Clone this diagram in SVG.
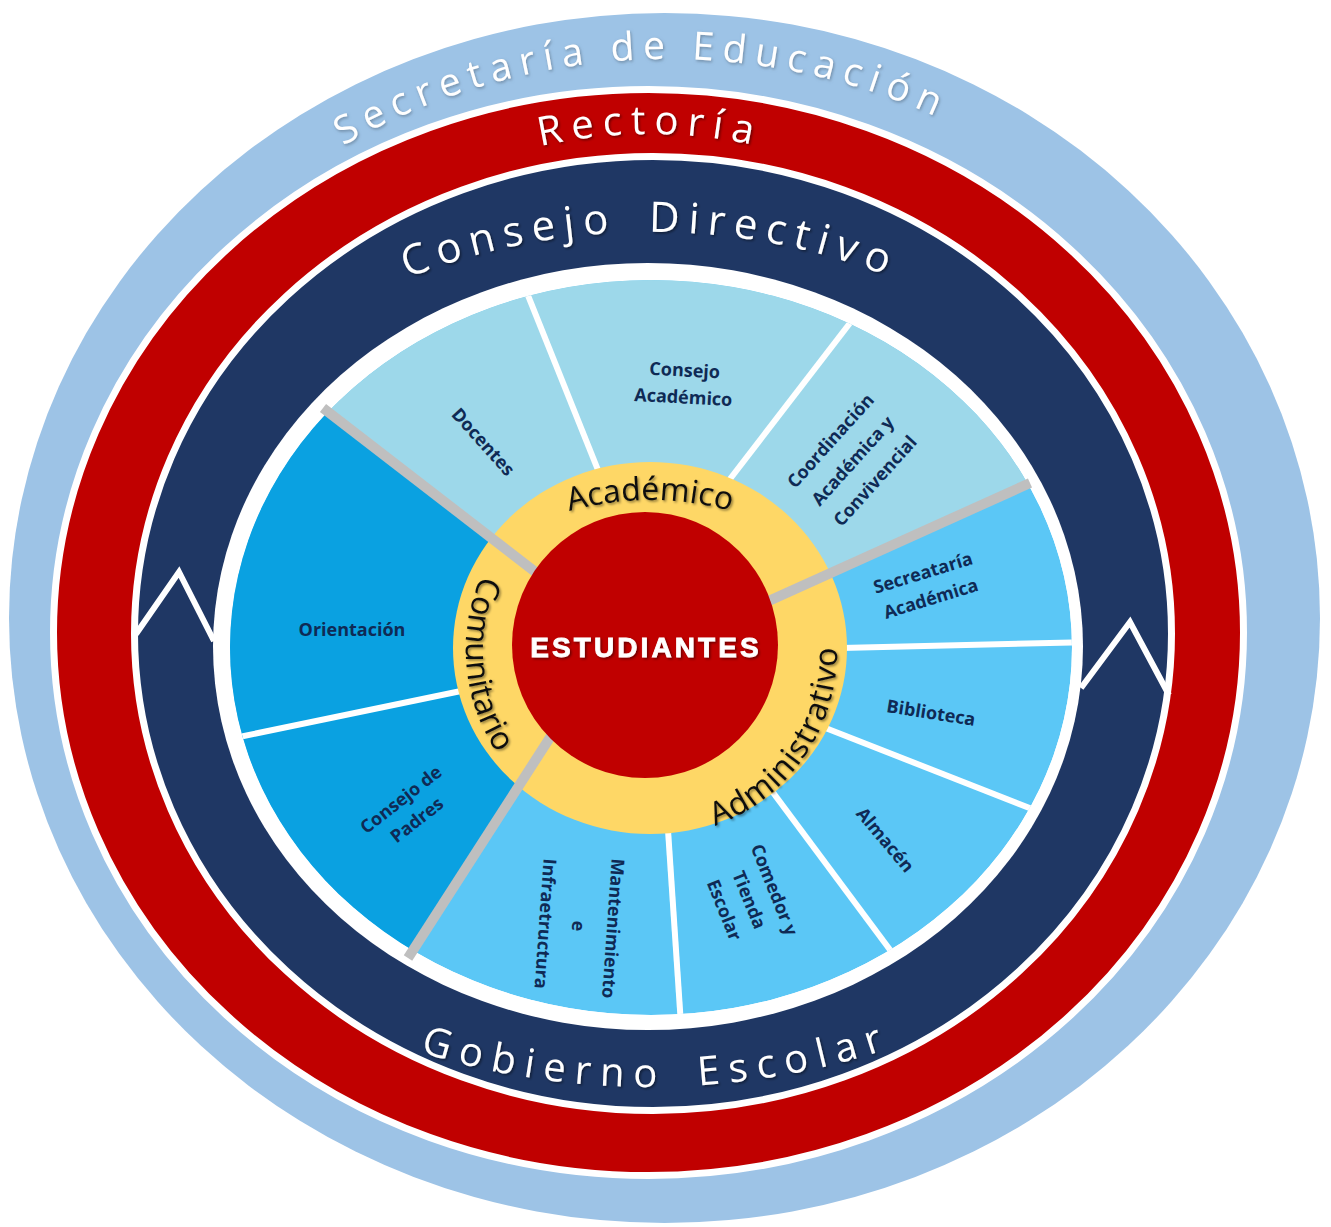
<svg xmlns="http://www.w3.org/2000/svg" width="1331" height="1227" viewBox="0 0 1331 1227">
<defs>
<style>
.ring{font-family:"Open Sans","Liberation Sans",sans-serif;fill:#ffffff}
.lbl{font-family:"Open Sans","Liberation Sans",sans-serif;font-weight:700;font-size:18px;fill:#0F2A55;text-anchor:middle}
.area{font-family:"Open Sans","Liberation Sans",sans-serif;font-size:32px;fill:#111111}
.sep{stroke:#ffffff;stroke-width:6;fill:none}
.gray{stroke:#BFBFBF;stroke-width:10;fill:none}
.chev{stroke:#ffffff;stroke-width:6;fill:none;stroke-linejoin:miter}
</style>
<filter id="sh" x="-20%" y="-20%" width="140%" height="160%">
<feDropShadow dx="1.5" dy="1.5" stdDeviation="1.2" flood-color="#000000" flood-opacity="0.45"/>
</filter>
<filter id="shl" x="-20%" y="-20%" width="140%" height="160%">
<feDropShadow dx="1" dy="1.5" stdDeviation="1.5" flood-color="#5a6f86" flood-opacity="0.7"/>
</filter>
<clipPath id="disc"><ellipse cx="651" cy="647.5" rx="421" ry="367.5"/></clipPath>
<path id="pSec" d="M 249.5 211.3 A 651 651 0 0 1 1041.4 176.7"/>
<path id="pRec" d="M 438.3 181 A 501 501 0 0 1 861.7 181"/>
<path id="pCon" d="M 300 336.2 A 520 400 0 0 1 1000 336.2"/>
<path id="pGob" d="M 266 984.4 A 766 766 0 0 0 1032 984.4"/>
<path id="pAca" d="M 477.9 554.3 A 300 300 0 0 1 822.1 554.3"/>
<path id="pCom" d="M 532.4 507.5 A 186 186 0 0 0 559 811.1"/>
<path id="pAdm" d="M 620 834 A 185 185 0 0 0 810 555.5"/>
</defs>

<rect width="1331" height="1227" fill="#ffffff"/>

<g id="secretaria">
<ellipse cx="664.5" cy="618" rx="655.5" ry="605" fill="#9DC3E6"/>
<text class="ring" font-size="39" letter-spacing="8.2" fill="#EEF3FA" filter="url(#shl)"><textPath href="#pSec" startOffset="50%" text-anchor="middle">Secretaría de Educación</textPath></text>
</g>

<g id="rectoria">
<ellipse cx="648.5" cy="632.5" rx="595" ry="543" fill="#C00000" stroke="#ffffff" stroke-width="7"/>
<text class="ring" font-size="40" letter-spacing="8.5" filter="url(#sh)"><textPath href="#pRec" startOffset="50%" text-anchor="middle">Rectoría</textPath></text>
</g>

<g id="gobierno">
<ellipse cx="653" cy="633.5" rx="518.5" ry="477" fill="#1F3764" stroke="#ffffff" stroke-width="7"/>
<polyline class="chev" points="136,634 179,572 214,641"/>
<polyline class="chev" points="1081,688 1130,622 1169,695"/>
<text class="ring" font-size="42" letter-spacing="8.4" word-spacing="12" filter="url(#sh)"><textPath href="#pCon" startOffset="50%" text-anchor="middle">Consejo Directivo</textPath></text>
<text class="ring" font-size="40" letter-spacing="9.4" word-spacing="12" filter="url(#sh)"><textPath href="#pGob" startOffset="51%" text-anchor="middle">Gobierno Escolar</textPath></text>
</g>

<ellipse cx="648" cy="646.5" rx="435" ry="383.5" fill="#ffffff"/>

<g id="sectores" clip-path="url(#disc)">
<ellipse id="sector-administrativo" cx="651" cy="647.5" rx="421" ry="367.5" fill="#5BC7F6"/>
<polygon id="sector-academico" points="650,648 533,570 113,246 113,-100 1400,-100 1400,316 1283,369 777,597" fill="#9DD8EA"/>
<polygon id="sector-comunitario" points="650,648 533,570 113,246 0,246 0,1300 271,1171 545,745" fill="#0AA1E1"/>
</g>

<g id="conectores">
<g clip-path="url(#disc)">
<line class="sep" x1="515" y1="263" x2="610" y2="500"/>
<line class="sep" x1="870" y1="297" x2="720" y2="492"/>
<line class="sep" x1="1090" y1="642" x2="800" y2="649"/>
<line class="sep" x1="1050" y1="816" x2="800" y2="718"/>
<line class="sep" x1="905" y1="970" x2="760" y2="775"/>
<line class="sep" x1="682" y1="1040" x2="666" y2="800"/>
<line class="sep" x1="215" y1="742" x2="490" y2="685"/>
</g>
</g>

<g id="anillo-areas">
<ellipse cx="650" cy="648" rx="197" ry="186" fill="#FED766"/>
</g>

<g id="divisores">
<line class="gray" x1="323" y1="408" x2="560" y2="591"/>
<line class="gray" x1="1030" y1="483" x2="760" y2="605"/>
<line class="gray" x1="408" y1="958" x2="560" y2="722"/>
</g>

<g id="estudiantes">
<circle cx="645" cy="645" r="133" fill="#C00000"/>
<text x="646" y="657" font-family="'Liberation Sans',Arial,sans-serif" font-weight="700" font-size="28" letter-spacing="3.1" text-anchor="middle" fill="#ffffff" stroke="#ffffff" stroke-width="0.8" filter="url(#sh)">ESTUDIANTES</text>
</g>

<g id="area-academico"><text class="area" letter-spacing="0" filter="url(#sh)"><textPath href="#pAca" startOffset="50%" text-anchor="middle">Académico</textPath></text></g>
<g id="area-comunitario"><text class="area" letter-spacing="0" filter="url(#sh)"><textPath href="#pCom" startOffset="50%" text-anchor="middle">Comunitario</textPath></text></g>
<g id="area-administrativo"><text class="area" letter-spacing="1" filter="url(#sh)"><textPath href="#pAdm" startOffset="50%" text-anchor="middle">Administrativo</textPath></text></g>

<g id="docentes"><text class="lbl" transform="translate(483 442) rotate(48)" x="0" y="6">Docentes</text></g>
<g id="consejo-academico"><text class="lbl" transform="translate(684 384) rotate(3)"><tspan x="0" y="-7.5">Consejo</tspan><tspan x="0" y="19.5">Académico</tspan></text></g>
<g id="coordinacion"><text class="lbl" transform="translate(853 461) rotate(-48)"><tspan x="0" y="-24">Coordinación</tspan><tspan x="0" y="6">Académica y</tspan><tspan x="0" y="36">Convivencial</tspan></text></g>
<g id="secretaria-academica"><text class="lbl" transform="translate(927 586) rotate(-17)"><tspan x="0" y="-7.5">Secreataría</tspan><tspan x="0" y="19.5">Académica</tspan></text></g>
<g id="biblioteca"><text class="lbl" transform="translate(931 713) rotate(9)" x="0" y="6">Biblioteca</text></g>
<g id="almacen"><text class="lbl" transform="translate(885 840) rotate(50)" x="0" y="6">Almacén</text></g>
<g id="comedor"><text class="lbl" transform="translate(749 900) rotate(68)"><tspan x="0" y="-21">Comedor y</tspan><tspan x="0" y="6">Tienda</tspan><tspan x="0" y="33">Escolar</tspan></text></g>
<g id="mantenimiento"><text class="lbl" transform="translate(578 926) rotate(94)"><tspan x="0" y="-29">Mantenimiento</tspan><tspan x="0" y="6">e</tspan><tspan x="0" y="39">Infraetructura</tspan></text></g>
<g id="orientacion"><text class="lbl" x="352" y="636">Orientación</text></g>
<g id="consejo-padres"><text class="lbl" transform="translate(409 810) rotate(-38)"><tspan x="0" y="-7">Consejo de</tspan><tspan x="0" y="19">Padres</tspan></text></g>
</svg>
